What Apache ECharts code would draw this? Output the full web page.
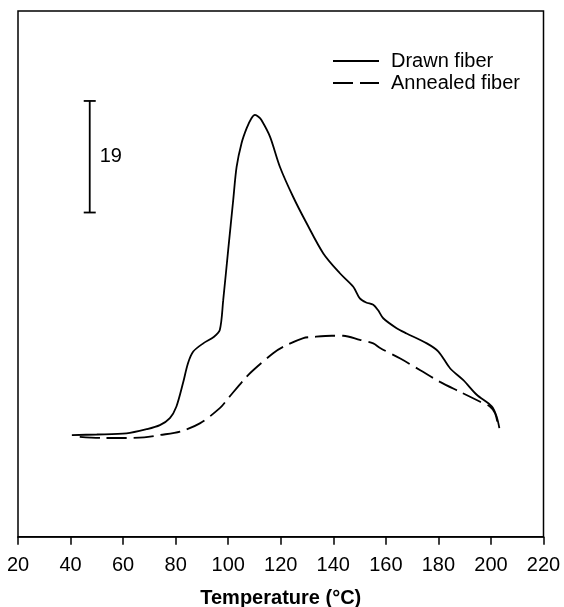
<!DOCTYPE html>
<html>
<head>
<meta charset="utf-8">
<script src="https://cdn.jsdelivr.net/npm/echarts@6/dist/echarts.min.js"></script>
<style>
    html, body { margin: 0; padding: 0; background: #fff; }
    #myChart { width: 564px; height: 607px; }
</style>
</head>
<body>
<div id="myChart"></div>
<script>
const fontFamily = '"Liberation Sans", Arial, sans-serif'
const fontSize = 20

// temperatures (°C) and heights (arbitrary units, scale bar = 19)
const drawnTemp = [40.5, 50, 61.3, 68.9, 74.0, 77.8, 80.3, 82.8, 84.7, 86.7, 90.5, 94.5, 96.8, 98.1, 100.0, 101.9, 103.2, 105.1, 107.0, 108.8, 110.2, 111.5, 112.7, 115.9, 119.7, 124.7, 129.8, 136.2, 142.5, 147.6, 150.1, 152.5, 155.2, 157.0, 159.0, 164.1, 167.9, 175.6, 180.0, 184.5, 189.5, 194.6, 200.3, 202.2, 203.2]
const drawnValue = [17.4, 17.5, 17.7, 18.4, 19.1, 20.3, 22.3, 26.3, 29.7, 31.7, 33.1, 34.2, 35.4, 40.5, 49.1, 57.6, 63.3, 67.4, 69.9, 71.6, 72.2, 71.9, 71.3, 68.5, 63.3, 58.2, 53.7, 48.5, 45.1, 42.8, 40.8, 40.1, 39.7, 38.8, 37.4, 35.7, 34.8, 33.1, 31.7, 28.8, 26.8, 24.3, 22.3, 20.5, 18.6]

const annealedTemp = [43.5, 52, 61.3, 68, 74.0, 81.7, 89.2, 96.8, 100.0, 106.4, 109.5, 117.1, 120.9, 128.6, 132.4, 139.4, 143.8, 150.1, 155.2, 157.8, 165.5, 173.1, 180.6, 188.2, 195.9, 199.6, 201.6, 202.8]
const annealedValue = [17.1, 16.9, 16.9, 17.0, 17.4, 18.0, 19.4, 22.0, 23.7, 27.1, 28.5, 31.4, 32.5, 34.0, 34.2, 34.4, 34.4, 33.7, 33.1, 32.3, 30.5, 28.5, 26.5, 24.8, 23.1, 22.3, 21.1, 18.8]

const seriesNames = ['Drawn fiber', 'Annealed fiber']
const xTicks = [20, 40, 60, 80, 100, 120, 140, 160, 180, 200, 220]

// scale bar: x position, bottom, top, label
const scaleBarX = 47.3
const scaleBarFrom = 55.5
const scaleBarTo = 74.6
const scaleBarLabel = '19'

function zip (xs, ys) {
    let out = []
    for (let i = 0; i < xs.length; i++) {
        out.push([xs[i], ys[i]])
    }
    return out
}

const myChart = echarts.init(document.getElementById('myChart'), null, { renderer: 'canvas' })

const option = {
    animation: false,
    backgroundColor: '#fff',
    textStyle: { fontFamily: fontFamily, color: '#000' },
    grid: {
        left: 18,
        right: 20.5,
        top: 11,
        bottom: 70.3,
        outerBoundsMode: 'none',
        containLabel: false,
        show: true,
        borderColor: '#000',
        borderWidth: 1.5,
        backgroundColor: 'transparent'
    },
    legend: {
        // legend icons: solid bar and two dashes, like the plotted lines
        data: [{
            name: seriesNames[0],
            icon: 'path://M0,0H46V2H0Z'
        }, {
            name: seriesNames[1],
            icon: 'path://M0,0H20V2H0Z M27,0H46V2H27Z'
        }],
        orient: 'vertical',
        left: 333,
        top: 50,
        padding: 0,
        itemWidth: 46,
        itemHeight: 2,
        itemGap: 0,
        itemStyle: { color: '#000', borderWidth: 0 },
        textStyle: {
            fontFamily: fontFamily,
            fontSize: fontSize,
            color: '#000',
            lineHeight: 22,
            padding: [0, 0, 0, 7]
        }
    },
    xAxis: {
        type: 'value',
        min: xTicks[0],
        max: xTicks[xTicks.length - 1],
        interval: 20,
        name: 'Temperature (°C)',
        nameLocation: 'middle',
        nameGap: 52,
        nameTextStyle: {
            fontFamily: fontFamily,
            fontSize: fontSize,
            fontWeight: 'bold',
            color: '#000'
        },
        axisLine: { show: true, lineStyle: { color: '#000', width: 1.5 } },
        axisTick: { show: true, inside: false, length: 8, lineStyle: { color: '#000', width: 1.5 } },
        axisLabel: {
            fontFamily: fontFamily,
            fontSize: fontSize,
            color: '#000',
            margin: 19
        },
        splitLine: { show: false }
    },
    yAxis: {
        type: 'value',
        min: 0,
        max: 90,
        axisLine: { show: false },
        axisTick: { show: false },
        axisLabel: { show: false },
        splitLine: { show: false }
    },
    series: [{
        name: seriesNames[0],
        type: 'line',
        data: zip(drawnTemp, drawnValue),
        smooth: 0.3,
        symbol: 'none',
        lineStyle: { color: '#000', width: 1.8 },
        itemStyle: { color: '#000' }
    }, {
        name: seriesNames[1],
        type: 'line',
        data: zip(annealedTemp, annealedValue),
        smooth: 0.3,
        symbol: 'none',
        lineStyle: { color: '#000', width: 1.8, type: [20, 7] },
        itemStyle: { color: '#000' }
    }, {
        type: 'custom',
        silent: true,
        data: [[scaleBarX, scaleBarFrom, scaleBarTo]],
        renderItem: function (params, api) {
            const bottom = api.coord([api.value(0), api.value(1)])
            const top = api.coord([api.value(0), api.value(2)])
            const style = { stroke: '#000', lineWidth: 1.8 }
            return {
                type: 'group',
                children: [{
                    type: 'line',
                    shape: { x1: top[0], y1: top[1], x2: bottom[0], y2: bottom[1] },
                    style: style
                }, {
                    type: 'line',
                    shape: { x1: top[0] - 6, y1: top[1], x2: top[0] + 6, y2: top[1] },
                    style: style
                }, {
                    type: 'line',
                    shape: { x1: bottom[0] - 6, y1: bottom[1], x2: bottom[0] + 6, y2: bottom[1] },
                    style: style
                }, {
                    type: 'text',
                    x: top[0] + 10,
                    y: (top[1] + bottom[1]) / 2,
                    style: {
                        text: scaleBarLabel,
                        fill: '#000',
                        font: fontSize + 'px ' + fontFamily,
                        verticalAlign: 'middle',
                        align: 'left'
                    }
                }]
            }
        }
    }]
}

myChart.setOption(option)
</script>
</body>
</html>
